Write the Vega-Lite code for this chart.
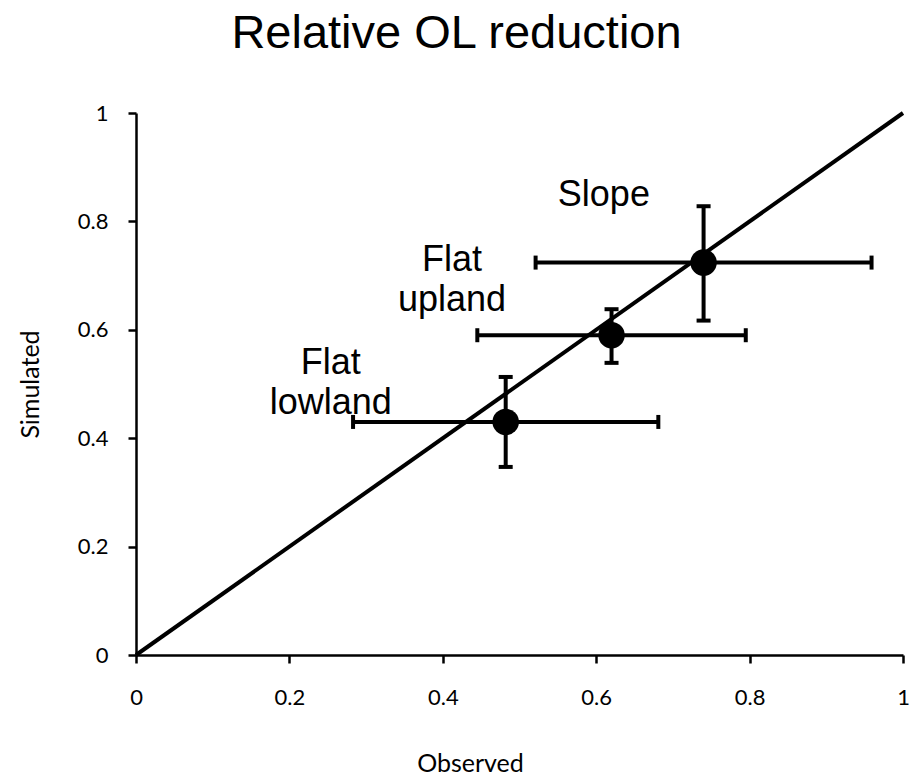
{
  "$schema": "https://vega.github.io/schema/vega-lite/v6.json",
  "width": 767,
  "height": 542,
  "autosize": "none",
  "padding": {"left": 136, "top": 113, "right": 10, "bottom": 122},
  "background": "white",
  "title": {
    "text": "Relative OL reduction",
    "font": "Liberation Sans",
    "fontSize": 47,
    "fontWeight": "normal",
    "color": "black",
    "anchor": "middle",
    "dx": -63,
    "offset": 44
  },
  "config": {
    "view": {"stroke": null},
    "axis": {
      "grid": false,
      "domainColor": "black",
      "domainWidth": 2.5,
      "tickColor": "black",
      "tickWidth": 2.5,
      "tickSize": 8,
      "labelFont": "Lato",
      "labelColor": "black",
      "labelFlush": false,
      "labelOverlap": false,
      "titleFont": "Lato",
      "titleFontWeight": "normal",
      "titleColor": "black",
      "titleBaseline": "middle",
      "titleAlign": "center"
    }
  },
  "datasets": {
    "pts": [
      {"site": "Slope", "obs": 0.74, "obs_lo": 0.521, "obs_hi": 0.959, "sim": 0.724, "sim_lo": 0.617, "sim_hi": 0.828},
      {"site": "Flat upland", "obs": 0.62, "obs_lo": 0.445, "obs_hi": 0.795, "sim": 0.59, "sim_lo": 0.539, "sim_hi": 0.638},
      {"site": "Flat lowland", "obs": 0.482, "obs_lo": 0.283, "obs_hi": 0.681, "sim": 0.43, "sim_lo": 0.347, "sim_hi": 0.513}
    ],
    "diag": [
      {"obs": 0, "sim": 0},
      {"obs": 1, "sim": 1}
    ],
    "labels": [
      {"text": "Slope", "obs": 0.61, "sim": 0.849},
      {"text": "Flat\nupland", "obs": 0.412, "sim": 0.729},
      {"text": "Flat\nlowland", "obs": 0.254, "sim": 0.539}
    ]
  },
  "layer": [
    {
      "data": {"name": "diag"},
      "mark": {"type": "line", "color": "black", "strokeWidth": 4},
      "encoding": {
        "x": {
          "field": "obs", "type": "quantitative",
          "scale": {"domain": [0, 1], "nice": false, "zero": false},
          "axis": {"values": [0, 0.2, 0.4, 0.6, 0.8, 1], "format": "~g", "labelFontSize": 22, "titleFontSize": 25, "labelPadding": 24, "titleX": 334, "titleY": 108},
          "title": "Observed"
        },
        "y": {
          "field": "sim", "type": "quantitative",
          "scale": {"domain": [0, 1], "nice": false, "zero": false},
          "axis": {"values": [0, 0.2, 0.4, 0.6, 0.8, 1], "format": "~g", "labelFontSize": 22, "titleFontSize": 25, "labelPadding": 20, "titleX": -106, "titleY": 271},
          "title": "Simulated"
        }
      }
    },
    {
      "data": {"name": "pts"},
      "mark": {"type": "errorbar", "orient": "horizontal", "ticks": {"size": 14, "thickness": 4, "color": "black", "opacity": 1}, "rule": {"strokeWidth": 4, "color": "black", "opacity": 1}},
      "encoding": {
        "x": {"field": "obs_lo", "type": "quantitative", "title": "Observed"},
        "x2": {"field": "obs_hi"},
        "y": {"field": "sim", "type": "quantitative", "title": "Simulated"}
      }
    },
    {
      "data": {"name": "pts"},
      "mark": {"type": "errorbar", "orient": "vertical", "ticks": {"size": 14, "thickness": 4, "color": "black", "opacity": 1}, "rule": {"strokeWidth": 4, "color": "black", "opacity": 1}},
      "encoding": {
        "y": {"field": "sim_lo", "type": "quantitative", "title": "Simulated"},
        "y2": {"field": "sim_hi"},
        "x": {"field": "obs", "type": "quantitative", "title": "Observed"}
      }
    },
    {
      "data": {"name": "pts"},
      "mark": {"type": "circle", "size": 700, "color": "black", "opacity": 1},
      "encoding": {
        "x": {"field": "obs", "type": "quantitative", "title": "Observed"},
        "y": {"field": "sim", "type": "quantitative", "title": "Simulated"}
      }
    },
    {
      "data": {"name": "labels"},
      "mark": {"type": "text", "font": "Liberation Sans", "fontSize": 36, "color": "black", "align": "center", "baseline": "middle", "lineBreak": "\n", "lineHeight": 40},
      "encoding": {
        "x": {"field": "obs", "type": "quantitative", "title": "Observed"},
        "y": {"field": "sim", "type": "quantitative", "title": "Simulated"},
        "text": {"field": "text"}
      }
    }
  ]
}
